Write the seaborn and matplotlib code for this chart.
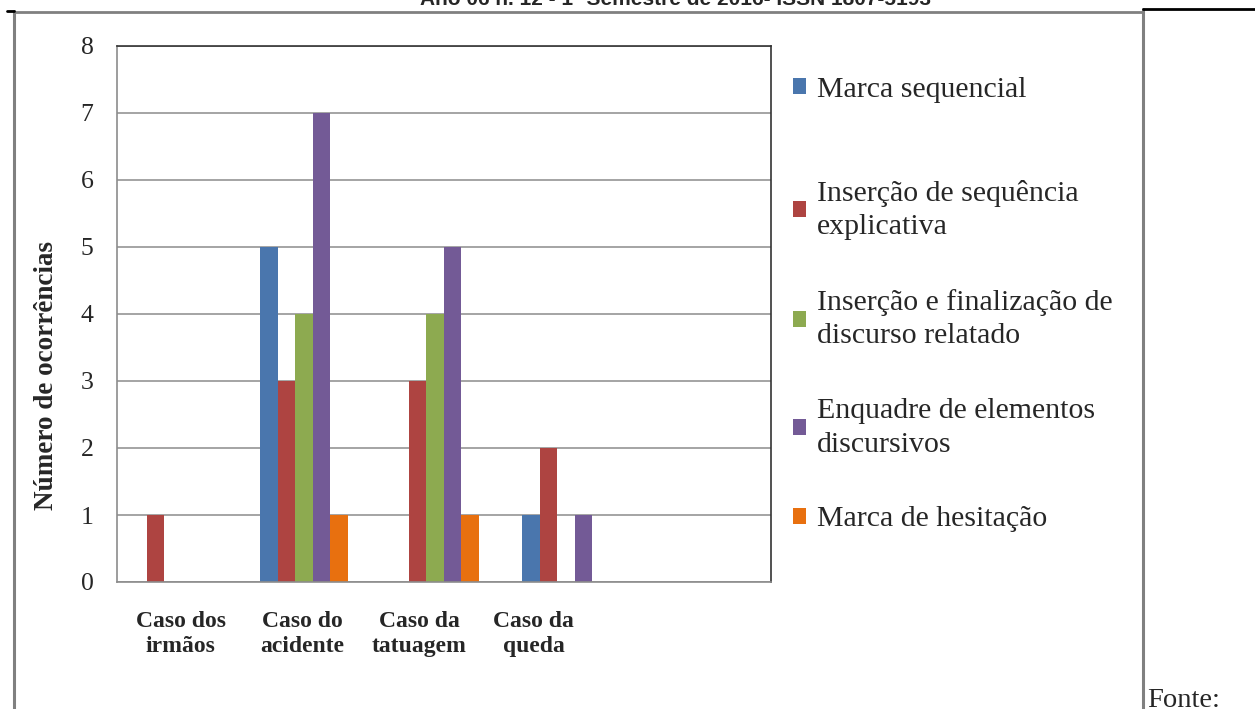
import matplotlib
matplotlib.use("Agg")
import matplotlib.pyplot as plt
import seaborn as sns
import pandas as pd
from matplotlib.lines import Line2D

# ---------------- data ----------------
categories = ["Caso dos\nirmãos", "Caso do\nacidente", "Caso da\ntatuagem", "Caso da\nqueda"]
series_names = [
    "Marca sequencial",
    "Inserção de sequência\nexplicativa",
    "Inserção e finalização de\ndiscurso relatado",
    "Enquadre de elementos\ndiscursivos",
    "Marca de hesitação",
]
marca_sequencial = [0, 5, 0, 1]
insercao_sequencia = [1, 3, 3, 2]
insercao_finalizacao = [0, 4, 4, 0]
enquadre_elementos = [0, 7, 5, 1]
marca_hesitacao = [0, 1, 1, 0]
y_ticks = [0, 1, 2, 3, 4, 5, 6, 7, 8]
y_label = "Número de ocorrências"
header_text = "Ano 06 n. 12 - 1º Semestre de 2016- ISSN 1807-5193"
footer_text = "Fonte:"

colors = ["#4A76AD", "#AE4441", "#8DAA50", "#735A96", "#E8700F"]

series_values = [marca_sequencial, insercao_sequencia, insercao_finalizacao,
                 enquadre_elementos, marca_hesitacao]
rows = []
for name, vals in zip(series_names, series_values):
    for cat, v in zip(categories, vals):
        rows.append({"caso": cat, "serie": name, "n": v})
df = pd.DataFrame(rows)

# ---------------- figure ----------------
sns.set_style("white")
plt.rcParams["font.family"] = ["Liberation Serif", "DejaVu Serif"]

fig = plt.figure(figsize=(12.55, 7.09), dpi=100)
W, H = 1255, 709
ax = fig.add_axes([117 / W, 1 - 582 / H, (771 - 117) / W, (582 - 46) / H])

sns.barplot(data=df, x="caso", y="n", hue="serie", palette=colors,
            width=0.668, linewidth=0, saturation=1, ax=ax, errorbar=None)

ax.set_xlim(-0.4275, 4.565)
ax.set_ylim(0, 8)
ax.set_yticks(y_ticks)
ax.set_yticklabels([str(t) for t in y_ticks], fontsize=18.5)
ax.yaxis.grid(True, color="#8c8c8c", linewidth=1.1)
ax.set_axisbelow(True)
ax.tick_params(axis="both", length=0)
ax.tick_params(axis="y", pad=17)

# tick label positions (layout offsets to match the reference)
tick_offsets = [0.06, -0.015, -0.12, -0.245]
ax.set_xticks([i + o for i, o in enumerate(tick_offsets)])
ax.set_xticklabels(categories, fontsize=17, fontweight="bold", linespacing=1.25)
ax.tick_params(axis="x", pad=21)
ax.set_xlabel("")
ax.set_ylabel(y_label, fontsize=19.5, fontweight="bold")
ax.yaxis.set_label_coords(-0.088, 0.386)

for s in ["left", "bottom"]:
    ax.spines[s].set_color("#8c8c8c")
    ax.spines[s].set_linewidth(1.2)
for s in ["top", "right"]:
    ax.spines[s].set_color("#333333")
    ax.spines[s].set_linewidth(1.2)

handles, labels = ax.get_legend_handles_labels()
if ax.legend_:
    ax.legend_.remove()
leg_kw = dict(loc="upper left", frameon=False, fontsize=21.5, handlelength=0.45,
              handleheight=0.45, handletextpad=0.35, borderpad=0, borderaxespad=0)
leg1 = fig.legend(handles[:1], labels[:1], bbox_to_anchor=(793 / W, 1 - 77 / H), **leg_kw)
leg2 = fig.legend(handles[1:], labels[1:], bbox_to_anchor=(793 / W, 1 - 180 / H),
                  labelspacing=1.64, **leg_kw)
for leg in (leg1, leg2):
    for t in leg.get_texts():
        t.set_linespacing(1.36)

# page decorations
gray = "#808080"
fig.add_artist(Line2D([14 / W, 14 / W], [1 - 11 / H, 0], color=gray, lw=2.2))
fig.add_artist(Line2D([1143 / W, 1143 / W], [1 - 9 / H, 0], color=gray, lw=2.2))
fig.add_artist(Line2D([14 / W, 1143 / W], [1 - 12 / H, 1 - 12 / H], color=gray, lw=2.0))
fig.add_artist(Line2D([1143 / W, 1], [1 - 9 / H, 1 - 9 / H], color="black", lw=2.0))
fig.add_artist(Line2D([7 / W, 14 / W], [1 - 11 / H, 1 - 11 / H], color="black", lw=2.0))

fig.text(675 / W, 1 - 5 / H, header_text, ha="center", va="baseline",
         fontsize=15, fontweight="bold", family="Liberation Sans")
fig.text(1147 / W, 1 - 688 / H, footer_text, ha="left", va="top", fontsize=20.5)

fig.savefig("out.png", dpi=100, facecolor="white")
